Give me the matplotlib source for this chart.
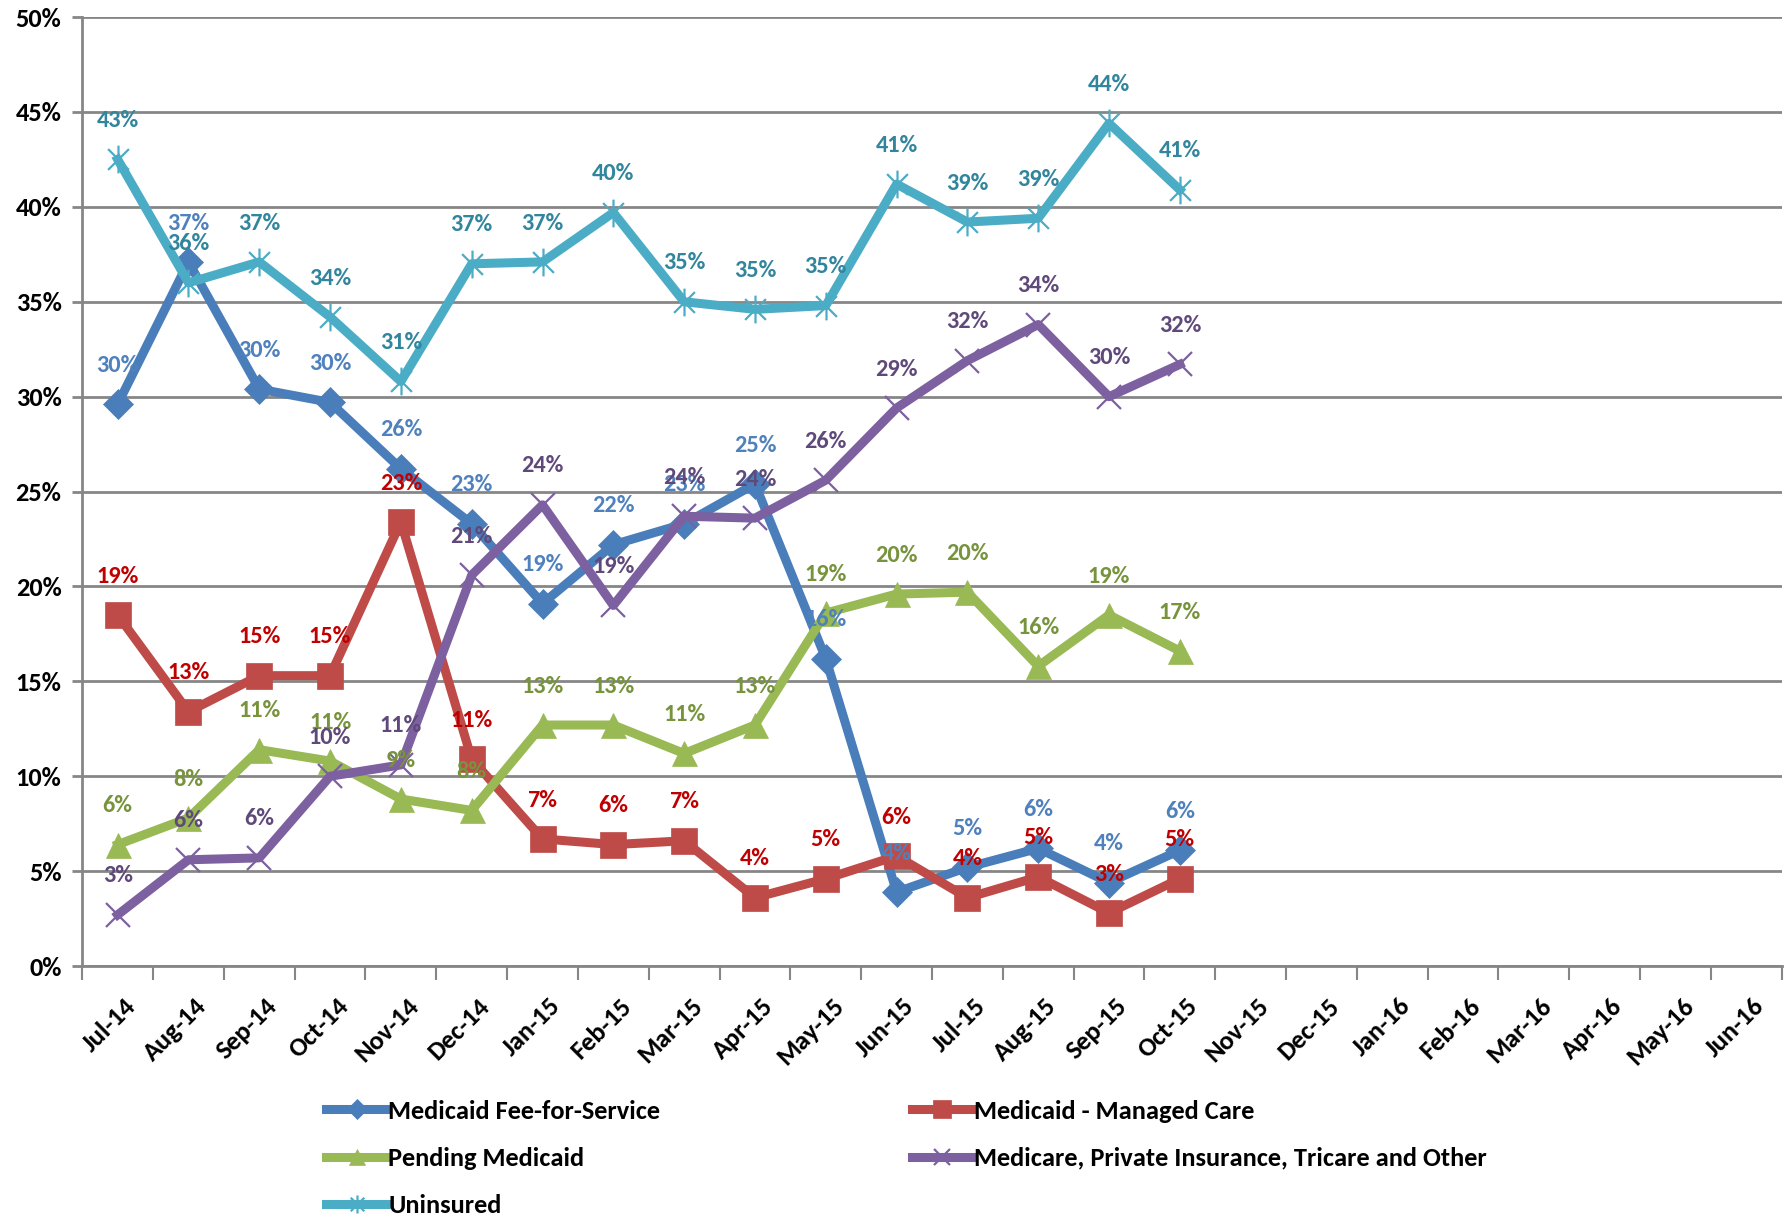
import matplotlib
matplotlib.use('Agg')
import matplotlib.pyplot as plt
from matplotlib import font_manager as fm
from matplotlib.path import Path
from matplotlib.transforms import ScaledTranslation

candidates = ['Carlito', 'Calibri', 'Liberation Sans Narrow', 'Roboto Condensed',
              'PT Sans Narrow', 'Open Sans Condensed', 'DejaVu Sans']
avail = {f.name for f in fm.fontManager.ttflist}
font = next(c for c in candidates if c in avail)
k = 1.0 if font in ('Carlito', 'Calibri', 'Liberation Sans Narrow') else 0.85
plt.rcParams['font.family'] = [font, 'DejaVu Sans']
plt.rcParams['font.weight'] = 'bold'

months = ['Jul-14', 'Aug-14', 'Sep-14', 'Oct-14', 'Nov-14', 'Dec-14', 'Jan-15', 'Feb-15',
          'Mar-15', 'Apr-15', 'May-15', 'Jun-15', 'Jul-15', 'Aug-15', 'Sep-15', 'Oct-15',
          'Nov-15', 'Dec-15', 'Jan-16', 'Feb-16', 'Mar-16', 'Apr-16', 'May-16', 'Jun-16']

ffs = [29.6, 37.1, 30.4, 29.7, 26.2, 23.3, 19.1, 22.2, 23.3, 25.4, 16.2, 3.9, 5.2, 6.2, 4.4, 6.1]
managed = [18.5, 13.4, 15.3, 15.3, 23.4, 10.9, 6.7, 6.4, 6.6, 3.6, 4.6, 5.8, 3.6, 4.7, 2.8, 4.6]
pending = [6.4, 7.8, 11.4, 10.8, 8.8, 8.2, 12.7, 12.7, 11.2, 12.7, 18.6, 19.6, 19.7, 15.8, 18.5, 16.6]
medicare = [2.7, 5.6, 5.7, 10.0, 10.6, 20.6, 24.3, 19.0, 23.7, 23.6, 25.6, 29.4, 31.9, 33.8, 30.0, 31.7]
uninsured = [42.5, 36.0, 37.1, 34.2, 30.8, 37.0, 37.1, 39.7, 35.0, 34.6, 34.8, 41.2, 39.2, 39.4, 44.4, 40.9]

names = ['Medicaid Fee-for-Service', 'Medicaid - Managed Care', 'Pending Medicaid',
         'Medicare, Private Insurance, Tricare and Other', 'Uninsured']
series = [ffs, managed, pending, medicare, uninsured]
line_colors = ['#4A7EBB', '#BE4B48', '#98B954', '#7D60A0', '#4BACC6']
label_colors = ['#4F81BD', '#C00000', '#77933C', '#5F497A', '#31859C']

star = Path([(0, -1), (0, 1), (-0.75, -0.75), (0.75, 0.75), (-0.75, 0.75), (0.75, -0.75)],
            [Path.MOVETO, Path.LINETO, Path.MOVETO, Path.LINETO, Path.MOVETO, Path.LINETO])
markers = ['D', 's', '^', 'x', star]
msizes = [15, 19, 18, 17, 20]

fig = plt.figure(figsize=(17.88, 12.19), dpi=100)
ax = fig.add_axes([0.046, 0.2075, 0.9505, 0.7785])

xs_all = list(range(len(months)))
handles = []
for i, (vals, name) in enumerate(zip(series, names)):
    x = xs_all[:len(vals)]
    stroke = i >= 3
    ln, = ax.plot(x, vals, color=line_colors[i], lw=6.5, marker=markers[i], ms=msizes[i],
                  mfc=line_colors[i], mec=line_colors[i], mew=1.6 if stroke else 0.5,
                  zorder=3 + i, label=name)
    handles.append(ln)

for i, vals in enumerate(series):
    for xi, v in enumerate(vals):
        ax.annotate(f"{int(v + 0.5)}%", (xi, v), xytext=(0, 28), textcoords='offset points',
                    ha='center', va='center', fontsize=17.5 * k, fontweight='bold',
                    color=label_colors[i], zorder=20)

ax.set_xlim(-0.5, len(months) - 0.5)
ax.set_ylim(0, 50)
ax.set_yticks(range(0, 51, 5))
ax.set_yticklabels([f"{t}%" for t in range(0, 51, 5)], fontsize=19 * k, fontweight='bold')
ax.yaxis.grid(True, color='#868686', lw=2)
ax.set_axisbelow(True)
for s in ['top', 'right']:
    ax.spines[s].set_visible(False)
for s in ['left', 'bottom']:
    ax.spines[s].set_color('#868686')
    ax.spines[s].set_linewidth(2)
ax.tick_params(axis='y', length=7, width=2, color='#868686', pad=8)

ax.set_xticks([j - 0.5 for j in range(len(months) + 1)], minor=False)
ax.set_xticklabels([])
ax.tick_params(axis='x', which='major', length=10, width=1.5, color='#868686')
ax.set_xticks(xs_all, minor=True)
ax.set_xticklabels(months, minor=True, rotation=45, ha='right', va='top',
                   rotation_mode='anchor', fontsize=19 * k, fontweight='bold')
ax.tick_params(axis='x', which='minor', length=0, pad=20)
shift = ScaledTranslation(6 / 100, 0, fig.dpi_scale_trans)
for lbl in ax.get_xticklabels(minor=True):
    lbl.set_transform(lbl.get_transform() + shift)

leg_kw = dict(loc='upper left', frameon=False, fontsize=19 * k, handlelength=2.3,
              handletextpad=0.05, labelspacing=0.92, borderpad=0, borderaxespad=0,
              markerscale=0.65)
leg1 = fig.legend([handles[0], handles[2], handles[4]], [names[0], names[2], names[4]],
                  bbox_to_anchor=(0.1825, 0.098), **leg_kw)
leg2 = fig.legend([handles[1], handles[3]], [names[1], names[3]],
                  bbox_to_anchor=(0.510, 0.098), **leg_kw)
for lg in (leg1, leg2):
    for t in lg.get_texts():
        t.set_fontweight('bold')

fig.savefig('out.png', dpi=100)
